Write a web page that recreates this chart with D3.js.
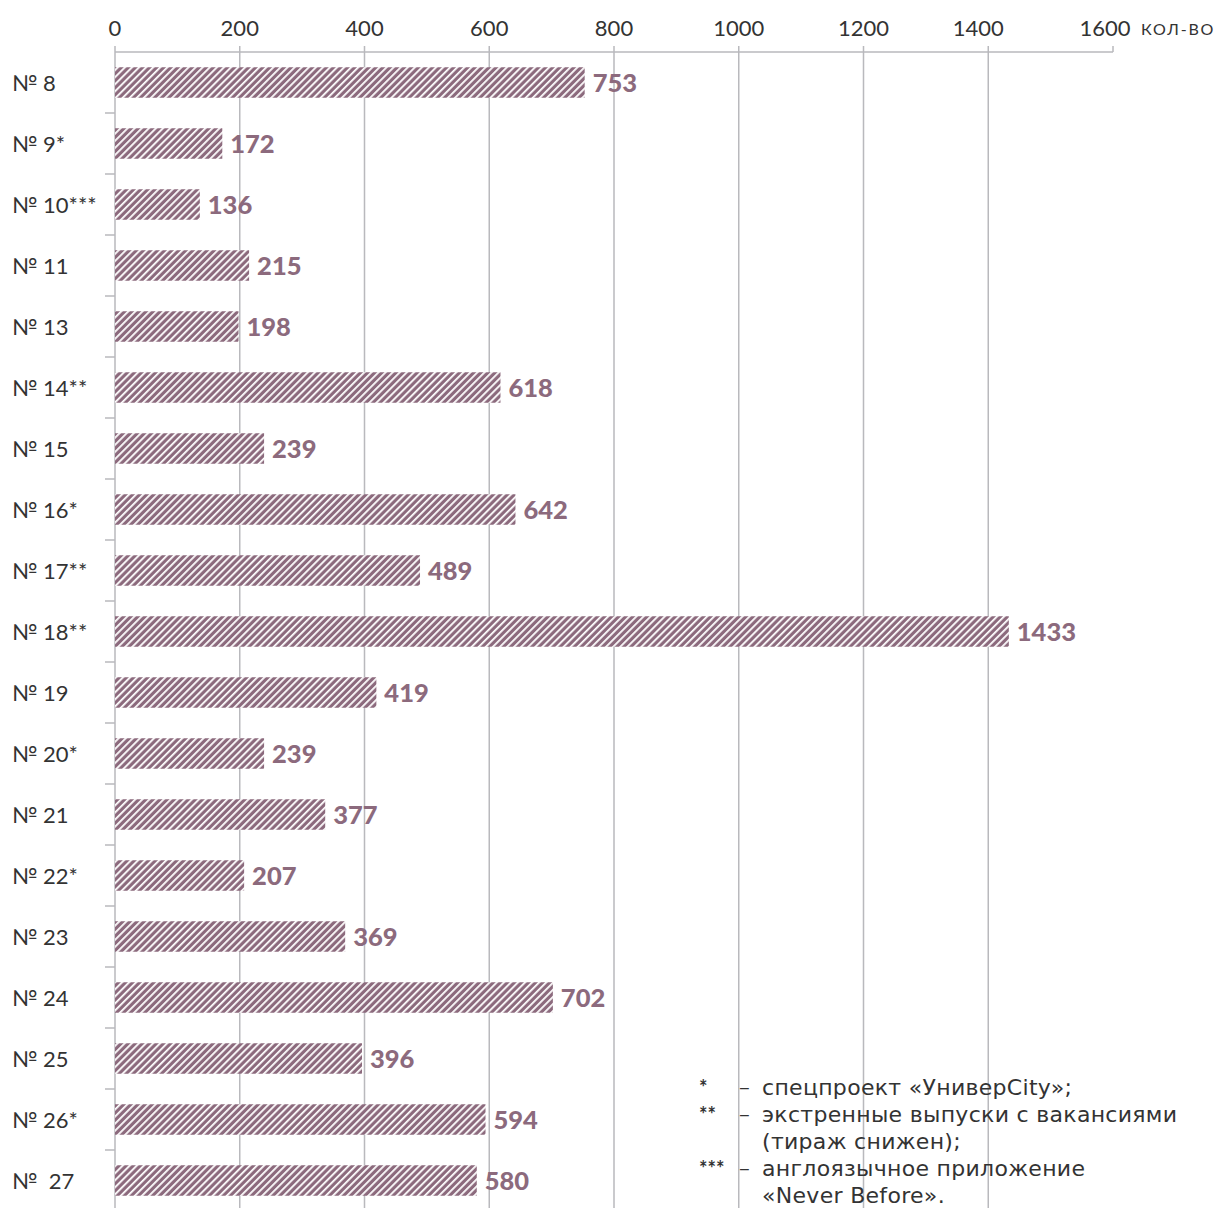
<!DOCTYPE html>
<html><head><meta charset="utf-8">
<script src="https://cdn.jsdelivr.net/npm/d3@7"></script>
<style>body{margin:0;background:#fff}svg{display:block}</style>
</head><body>
<script>
const categories = ["№ 8","№ 9*","№ 10***","№ 11","№ 13","№ 14**","№ 15","№ 16*","№ 17**","№ 18**","№ 19","№ 20*","№ 21","№ 22*","№ 23","№ 24","№ 25","№ 26*","№  27"];
// bar lengths as drawn in the picture (bar "№ 21" is drawn shorter than its label)
const barValues = [753,172,136,215,198,618,239,642,489,1433,419,239,337,207,369,702,396,594,580];
// numbers printed at the bar ends
const valueLabels = [753,172,136,215,198,618,239,642,489,1433,419,239,377,207,369,702,396,594,580];
const xTicks = [0,200,400,600,800,1000,1200,1400,1600];
const unitLabel = "кол-во";
const notes = [
  ["*","–","спецпроект «УниверCity»;"],
  ["**","–","экстренные выпуски с вакансиями"],
  ["","","(тираж снижен);"],
  ["***","–","англоязычное приложение"],
  ["","","«Never Before»."]
];

(function(){
const W=1224,H=1208;
const mLeft=115,mRight=1113,mTop=52;
const band=61;
const barColor="#8c6a7d";
const font="Lato, 'Open Sans', sans-serif";
const wideFont="'DejaVu Sans', Lato, sans-serif";

const svg=d3.select("body").append("svg").attr("width",W).attr("height",H);
const defs=svg.append("defs");
const pat=defs.append("pattern").attr("id","hatch").attr("patternUnits","userSpaceOnUse")
  .attr("width",5).attr("height",5).attr("patternTransform","rotate(45)");
pat.append("rect").attr("width",5).attr("height",5).attr("fill",barColor);
pat.append("rect").attr("x",0).attr("width",1.8).attr("height",5).attr("fill","#fff");

const x=d3.scaleLinear().domain([0,1600]).range([mLeft,mRight]);
const y=d3.scaleBand().domain(categories).range([mTop,mTop+band*categories.length]).paddingInner(0.5).paddingOuter(0.25);
const yb=d3.scaleBand().domain(categories).range([mTop,mTop+band*categories.length]);

svg.append("g").selectAll("line").data(xTicks.slice(1)).join("line")
  .attr("x1",d=>x(d)).attr("x2",d=>x(d)).attr("y1",46).attr("y2",d=>d===1600?mTop:H)
  .attr("stroke","#b9b9bd").attr("stroke-width",1.5);
svg.append("line").attr("x1",mLeft).attr("x2",mRight).attr("y1",mTop).attr("y2",mTop).attr("stroke","#b9b9bd").attr("stroke-width",1.5);
svg.append("line").attr("x1",mLeft).attr("x2",mLeft).attr("y1",46).attr("y2",H).attr("stroke","#b9b9bd").attr("stroke-width",1.5);
svg.append("g").selectAll("line").data(categories.slice(1)).join("line")
  .attr("x1",105).attr("x2",mLeft).attr("y1",d=>yb(d)).attr("y2",d=>yb(d))
  .attr("stroke","#b9b9bd").attr("stroke-width",1.5);

const shift={1400:10,1600:8};
svg.append("g").selectAll("text").data(xTicks).join("text")
  .attr("x",d=>x(d)-(shift[d]||0)).attr("y",36).attr("text-anchor","middle")
  .attr("font-family",font).attr("font-size",22).attr("fill","#333").text(d=>d);
svg.append("text").attr("x",1141).attr("y",35).attr("font-family",font).attr("font-size",16)
  .attr("fill","#333").style("text-transform","uppercase").attr("letter-spacing",1.8).text(unitLabel);

const data=categories.map((c,i)=>({c,v:barValues[i],l:valueLabels[i]}));
svg.append("g").selectAll("rect").data(data).join("rect")
  .attr("x",x(0)).attr("y",d=>y(d.c)).attr("width",d=>x(d.v)-x(0)).attr("height",y.bandwidth())
  .attr("fill","url(#hatch)");
svg.append("g").selectAll("text").data(data).join("text")
  .attr("x",d=>x(d.v)+8).attr("y",d=>y(d.c)+y.bandwidth()/2+9.5)
  .attr("font-family",font).attr("font-weight",900).attr("font-size",25.5).attr("fill",barColor).text(d=>d.l);

svg.append("g").selectAll("text").data(categories).join("text")
  .attr("x",12).attr("y",d=>yb(d)+yb.bandwidth()/2+8)
  .style("white-space","pre")
  .attr("font-family",font).attr("font-size",22).attr("fill","#333").text(d=>d);

const ng=svg.append("g");
notes.forEach((n,i)=>{
  const yy=1095+i*27;
  ng.append("text").attr("x",699).attr("y",yy).attr("font-family",font).attr("font-weight",700).attr("font-size",20).attr("fill","#333").text(n[0]);
  ng.append("text").attr("x",738).attr("y",yy).attr("font-family",font).attr("font-size",22).attr("fill","#333").text(n[1]);
  ng.append("text").attr("x",762).attr("y",yy).attr("font-family",wideFont).attr("font-size",22).attr("letter-spacing",0.3).attr("fill","#333").text(n[2]);
});
})();
</script>
</body></html>
